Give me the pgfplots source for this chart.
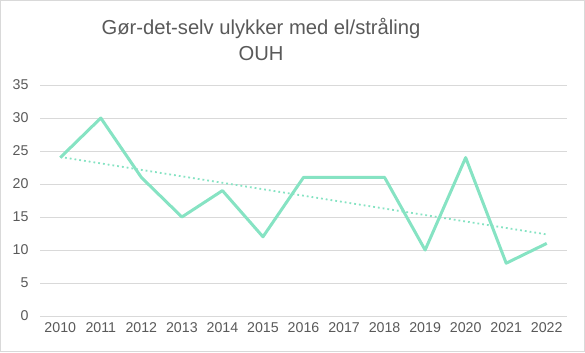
\documentclass[border=0pt]{standalone}
\usepackage{pgfplots}
\pgfplotsset{compat=1.18}
\usepackage{fontspec}
\setmainfont{Liberation Sans}
\definecolor{mint}{HTML}{86E3C3}
\definecolor{txt}{HTML}{595959}
\definecolor{gridc}{HTML}{D9D9D9}
\begin{document}
\begin{tikzpicture}[x=1bp,y=1bp]
\useasboundingbox (0,0) rectangle (585,352);
\draw[color=gridc, line width=1bp] (0.5,0.5) rectangle (584.5,351.5);
\node[text=txt, font=\fontsize{20.2bp}{24bp}\selectfont] at (261,324) {Gør-det-selv ulykker med el/stråling};
\node[text=txt, font=\fontsize{20.2bp}{24bp}\selectfont] at (261,298.5) {OUH};
\begin{axis}[
  at={(40bp,36bp)}, anchor=south west,
  scale only axis, width=527bp, height=231bp,
  xmin=-0.5, xmax=12.5, ymin=0, ymax=35,
  xtick={0,...,12},
  xticklabels={2010,2011,2012,2013,2014,2015,2016,2017,2018,2019,2020,2021,2022},
  ytick={0,5,...,35},
  axis line style={draw=none},
  major tick style={draw=none},
  ymajorgrids, grid style={color=gridc, line width=1bp},
  tick label style={text=txt, font=\fontsize{14.2bp}{17bp}\selectfont},
  /pgf/number format/assume math mode=true,
  yticklabel style={xshift=-8bp},
  xticklabel style={yshift=-3bp},
  clip=false,
]
\addplot[mint, line width=3bp, line join=round] coordinates {
(0,24) (1,30) (2,21) (3,15) (4,19) (5,12) (6,21) (7,21) (8,21) (9,10) (10,24) (11,8) (12,11)};
\addplot[mint, line width=1.8bp, dash pattern=on 1.8bp off 3bp] coordinates {(0,24.099) (12,12.363)};
\end{axis}
\end{tikzpicture}
\end{document}
